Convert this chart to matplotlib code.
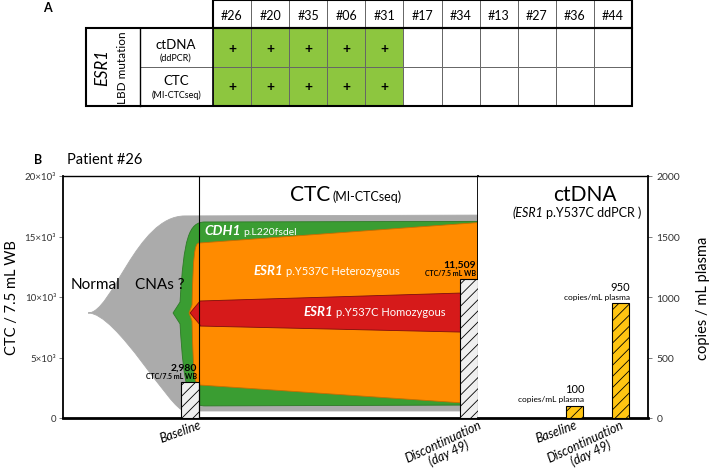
import matplotlib
matplotlib.use('Agg')
import matplotlib.pyplot as plt
from matplotlib.patches import Rectangle, PathPatch
from matplotlib.path import Path
from matplotlib.offsetbox import TextArea, HPacker, AnnotationBbox

plt.rcParams['font.family'] = ['Lato', 'DejaVu Sans']
plt.rcParams['hatch.linewidth'] = 0.6

# ---- data ----
patients = ['#26', '#20', '#35', '#06', '#31', '#17', '#34', '#13', '#27', '#36', '#44']
ctdna_pos = [1, 1, 1, 1, 1, 0, 0, 0, 0, 0, 0]
ctc_pos = [1, 1, 1, 1, 1, 0, 0, 0, 0, 0, 0]

time_labels = ['Baseline', 'Discontinuation\n(day 49)']
ctc_days = [0, 49]
ctc_counts = [2980, 11509]
ctdna_copies = [100, 950]

# fish plot clones (CTC / 7.5 mL WB): normal, CDH1, ESR1 het, ESR1 hom
clone_colors = ['#ABABAB', '#3A9D32', '#FF8B00', '#D61A1A']
clone_edges = ['#ABABAB', '#2D7A26', '#C96C00', '#7E0E0E']
clone_center = 8680
clone_tip_day = [-19.5, -4.57, -1.76, -1.58]
clone_notch_day = [-19.5, -3.34, -1.23, 0.18]
clone_notch_half = [0, 900, 660, 990]
clone_join_day = [-2.5, 1.05, 0.0, 0.18]
clone_top_start = [16700, 16200, 14460, 9670]
clone_bot_start = [580, 1000, 2730, 7600]
clone_top_end = [16770, 16250, 16150, 10370]
clone_bot_end = [580, 1070, 1160, 7070]

W, H = 709, 477
fig = plt.figure(figsize=(W / 100, H / 100), dpi=100)

# overlay in pixel units for panel A and panel letters
ov = fig.add_axes([0, 0, 1, 1])
ov.set_xlim(0, W)
ov.set_ylim(H, 0)
ov.axis('off')

# ---- panel A: table ----
x0, x1 = 213, 632
cw = (x1 - x0) / len(patients)
head = (1, 29)
rows = [29, 68, 107]
green = '#8DC63F'
for i, p in enumerate(patients):
    x = x0 + i * cw
    ov.add_patch(Rectangle((x, head[0]), cw, head[1] - head[0], fc='white', ec='#666', lw=0.7))
    ov.text(x + cw / 2, sum(head) / 2 + 1, p, ha='center', va='center', fontsize=9)
    for r, vals in enumerate([ctdna_pos, ctc_pos]):
        ov.add_patch(Rectangle((x, rows[r]), cw, rows[r + 1] - rows[r],
                               fc=green if vals[i] else 'white', ec='#666', lw=0.7))
        if vals[i]:
            ov.text(x + cw / 2, (rows[r] + rows[r + 1]) / 2, '+', ha='center', va='center',
                    fontsize=10, fontweight='bold')
ov.add_patch(Rectangle((140, 29), 73, 39, fc='white', ec='#666', lw=0.7))
ov.add_patch(Rectangle((140, 68), 73, 39, fc='white', ec='#666', lw=0.7))
ov.add_patch(Rectangle((x0, head[0]), x1 - x0, head[1] - head[0], fill=False, ec='black', lw=1.5))
ov.add_patch(Rectangle((86, 29), x1 - 86, 78, fill=False, ec='black', lw=1.5))
ov.plot([140, 140], [29, 107], color='black', lw=1.0)
ov.plot([213, 213], [29, 107], color='black', lw=1.2)
ov.text(176, 45, 'ctDNA', ha='center', va='center', fontsize=9.5)
ov.text(176, 58, '(ddPCR)', ha='center', va='center', fontsize=6.5)
ov.text(176, 81, 'CTC', ha='center', va='center', fontsize=9.5)
ov.text(176, 95, '(MI-CTCseq)', ha='center', va='center', fontsize=6.5)
ov.text(102, 68, 'ESR1', ha='center', va='center', rotation=90, fontsize=12, fontstyle='italic')
ov.text(123, 68, 'LBD mutation', ha='center', va='center', rotation=90, fontsize=8.5)
ov.text(47, 8, 'A', ha='center', va='center', fontsize=9, fontweight='bold')
ov.text(38, 160, 'B', ha='center', va='center', fontsize=9, fontweight='bold')
ov.text(67, 160, 'Patient #26', ha='left', va='center', fontsize=10.5)

# ---- panel B ----
top_px, bot_px = 177, 419
axL = fig.add_axes([63 / W, 1 - bot_px / H, (478 - 63) / W, (bot_px - top_px) / H])
axR = fig.add_axes([478 / W, 1 - bot_px / H, (648 - 478) / W, (bot_px - top_px) / H])

axL.set_xlim(-23.9, 49)
axL.set_ylim(0, 20000)


def clone_patch(i):
    xt, yc = clone_tip_day[i], clone_center
    xn, nh = clone_notch_day[i], clone_notch_half[i]
    xj = clone_join_day[i]
    t0, b0 = clone_top_start[i], clone_bot_start[i]
    xe = ctc_days[1]
    C, L = Path.CURVE4, Path.LINETO
    if i == 0:
        dx = xj - xt
        verts = [(xt, yc), (xt + 0.25 * dx, yc), (xt + 0.5 * dx, t0), (xj, t0),
                 (xe, clone_top_end[i]), (xe, clone_bot_end[i]), (xj, b0),
                 (xt + 0.85 * dx, b0), (xt + 0.3 * dx, yc), (xt, yc), (xt, yc)]
        codes = [Path.MOVETO, C, C, C, L, L, L, C, C, C, Path.CLOSEPOLY]
    else:
        dx = xj - xn
        up0, lo0 = yc + nh, yc - nh
        verts = [(xt, yc), (xn, up0),
                 (xn + 0.15 * dx, up0 + 0.8 * (t0 - up0)), (xn + 0.35 * dx, t0), (xj, t0),
                 (xe, clone_top_end[i]), (xe, clone_bot_end[i]), (xj, b0),
                 (xn + 0.35 * dx, b0), (xn + 0.15 * dx, lo0 - 0.8 * (lo0 - b0)), (xn, lo0),
                 (xt, yc), (xt, yc)]
        codes = [Path.MOVETO, L, C, C, C, L, L, L, C, C, C, L, Path.CLOSEPOLY]
    return PathPatch(Path(verts, codes), fc=clone_colors[i], ec=clone_edges[i], lw=0.6,
                     joinstyle='miter', zorder=2 + i * 0.1)


for i in range(len(clone_colors)):
    axL.add_patch(clone_patch(i))

bar_w = 3.16
axL.bar(ctc_days, ctc_counts, width=-bar_w, align='edge', color='#EFEFEF', edgecolor='black',
        hatch='///', lw=0.8, zorder=5)
axL.axvline(ctc_days[0], color='black', lw=0.8, zorder=6)

for d, v in zip(ctc_days, ctc_counts):
    axL.annotate(f'{v:,}', xy=(d - 0.3, v), xytext=(0, 15), textcoords='offset pixels',
                 ha='right', va='center', fontsize=7.5, fontweight='bold', zorder=7)
    axL.annotate('CTC/7.5 mL WB', xy=(d - 0.3, v), xytext=(0, 6), textcoords='offset pixels',
                 ha='right', va='center', fontsize=5, fontweight='bold', zorder=7)


def rich(ax, x, y, parts, color='black', halign=0.0):
    areas = [TextArea(s, textprops=dict(color=color, fontsize=fs, fontweight=w, fontstyle=st))
             for s, fs, w, st in parts]
    box = HPacker(children=areas, align='baseline', pad=0, sep=2)
    ab = AnnotationBbox(box, (x, y), xycoords='data', frameon=False, box_alignment=(halign, 0.5),
                        pad=0, zorder=8, annotation_clip=False)
    ax.add_artist(ab)


axL.text(-22.6, 11070, 'Normal', ha='left', va='center', fontsize=11, zorder=8)
axL.text(-11.2, 11070, 'CNAs ?', ha='left', va='center', fontsize=11, zorder=8)
rich(axL, 0.9, 15540, [('CDH1', 10, 'bold', 'italic'), ('p.L220fsdel', 7.5, 'normal', 'normal')], 'white')
rich(axL, 9.5, 12230, [('ESR1', 9.5, 'bold', 'italic'), ('p.Y537C Heterozygous', 8, 'normal', 'normal')], 'white')
rich(axL, 18.3, 8840, [('ESR1', 9.5, 'bold', 'italic'), ('p.Y537C Homozygous', 8, 'normal', 'normal')], 'white')
rich(axL, 25.8, 18510, [('CTC', 15, 'normal', 'normal'), ('(MI-CTCseq)', 9, 'normal', 'normal')], 'black', 0.5)

axL.set_yticks([0, 5000, 10000, 15000, 20000])
axL.set_yticklabels(['0', '5×10³', '10×10³', '15×10³', '20×10³'], fontsize=7, color='#333')
axL.tick_params(axis='y', length=3, width=0.6, color='#666', pad=2)
axL.set_ylabel('CTC / 7.5 mL WB', fontsize=10.5)
axL.yaxis.set_label_coords(-0.105, 0.5)
axL.set_xticks(ctc_days)
axL.set_xticklabels(time_labels, fontsize=9, fontstyle='italic', linespacing=1.05)
axL.tick_params(axis='x', length=0, pad=0)
for t, rot in zip(axL.get_xticklabels(), [20, 25]):
    t.set_rotation(rot)
    t.set_ha('right')
    t.set_va('top')
    t.set_rotation_mode('anchor')
    t.set_multialignment('center')
axL.spines['bottom'].set_linewidth(2)
axL.spines['left'].set_linewidth(1.3)
axL.spines['top'].set_linewidth(1.0)
axL.spines['right'].set_linewidth(1.3)

# ctDNA panel
xpos = [0, 1]
axR.bar(xpos, ctdna_copies, width=0.38, color='#FFC512', edgecolor='black', hatch='///', lw=0.8, zorder=3)
axR.set_xlim(-2.1, 1.6)
axR.set_ylim(0, 2000)
for x, v in zip(xpos, ctdna_copies):
    axR.annotate(f'{v}', xy=(x, v), xytext=(0, 17), textcoords='offset pixels',
                 ha='center', va='center', fontsize=8)
    axR.annotate('copies/mL plasma', xy=(x + 0.2, v), xytext=(0, 7), textcoords='offset pixels',
                 ha='right', va='center', fontsize=6)
axR.text(0.23, 1851, 'ctDNA', ha='center', va='center', fontsize=15)
rich(axR, 0.05, 1702, [('(ESR1', 9, 'normal', 'italic'), ('p.Y537C ddPCR )', 9, 'normal', 'normal')], 'black', 0.5)
axR.yaxis.tick_right()
axR.yaxis.set_label_position('right')
axR.set_yticks([0, 500, 1000, 1500, 2000])
axR.tick_params(axis='y', labelsize=7.5, length=3, width=0.6, color='#666', pad=3, labelcolor='#333')
axR.set_ylabel('copies / mL plasma', fontsize=10.5)
axR.yaxis.set_label_coords(1.28, 0.5)
axR.set_xticks(xpos)
axR.set_xticklabels(time_labels, fontsize=9, fontstyle='italic', linespacing=1.05)
axR.tick_params(axis='x', length=0, pad=0)
for t, rot in zip(axR.get_xticklabels(), [20, 25]):
    t.set_rotation(rot)
    t.set_ha('right')
    t.set_va('top')
    t.set_rotation_mode('anchor')
    t.set_multialignment('center')
axR.spines['left'].set_visible(False)
axR.spines['bottom'].set_linewidth(2)
axR.spines['top'].set_linewidth(1.0)
axR.spines['right'].set_linewidth(1.3)

fig.savefig('out.png', dpi=100)
